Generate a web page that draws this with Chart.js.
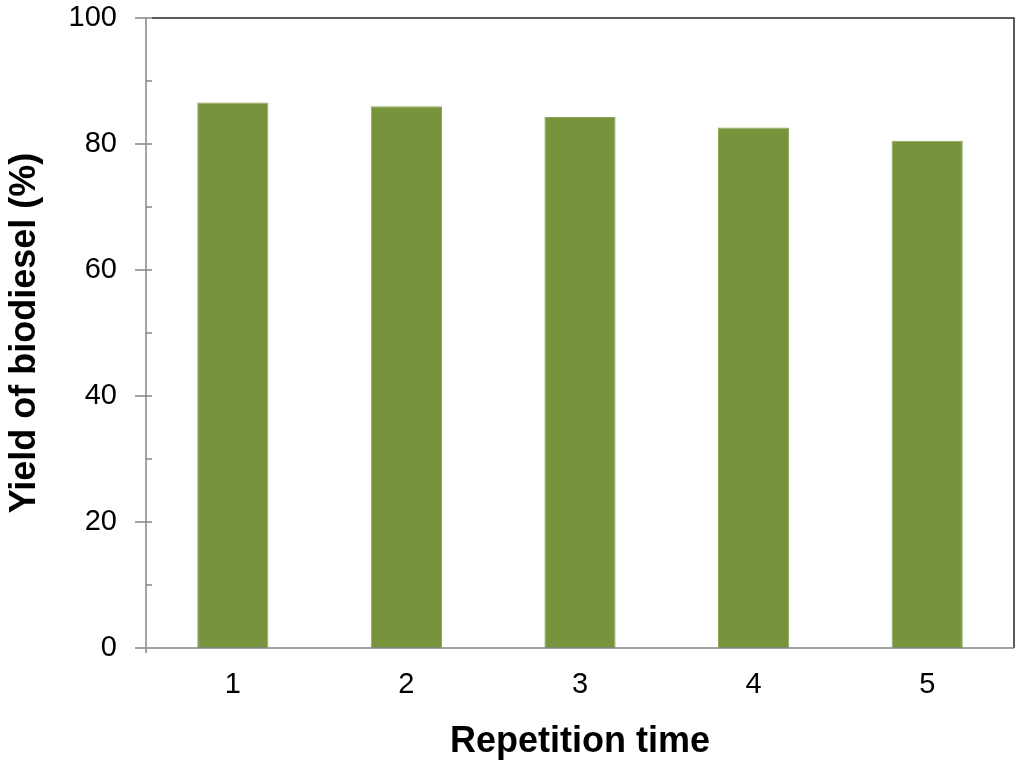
<!DOCTYPE html>
<html>
<head>
<meta charset="utf-8">
<script src="https://cdn.jsdelivr.net/npm/chart.js@4"></script>
<style>
  html, body { margin: 0; padding: 0; background: #fff; }
  #wrap { width: 1024px; height: 774px; }
</style>
</head>
<body>
<div id="wrap"><canvas id="yieldChart" width="1024" height="774"></canvas></div>
<script>
// Data
const runs = ['1', '2', '3', '4', '5'];
const yieldPct = [86.6, 86.0, 84.3, 82.6, 80.5];
const yTicks = [0, 20, 40, 60, 80, 100];
const yMinor = [10, 30, 50, 70, 90];

const axisGray = '#868686';
const frameDark = '#262626';

// Excel-style axes: crossing major ticks, inner minor ticks, dark frame top/right
const framePlugin = {
    id: 'frame',
    afterDatasetsDraw(chart) {
        const { ctx, chartArea: a } = chart;
        const y = chart.scales.y;
        ctx.save();
        ctx.lineWidth = 1.5;
        ctx.strokeStyle = frameDark;
        ctx.beginPath();
        ctx.moveTo(a.left + 6, a.top);
        ctx.lineTo(a.right, a.top);
        ctx.lineTo(a.right, a.bottom);
        ctx.stroke();

        ctx.strokeStyle = axisGray;
        ctx.beginPath();
        ctx.moveTo(a.left, a.top);
        ctx.lineTo(a.left, a.bottom + 5);
        ctx.moveTo(a.left - 11, a.bottom);
        ctx.lineTo(a.right, a.bottom);
        yTicks.forEach(v => {
            const py = y.getPixelForValue(v);
            ctx.moveTo(a.left - 11, py);
            ctx.lineTo(a.left + 6, py);
        });
        yMinor.forEach(v => {
            const py = y.getPixelForValue(v);
            ctx.moveTo(a.left, py);
            ctx.lineTo(a.left + 6, py);
        });
        ctx.stroke();
        ctx.restore();
    }
};

const ctx = document.getElementById('yieldChart').getContext('2d');
const yieldChart = new Chart(ctx, {
    type: 'bar',
    data: {
        labels: runs,
        datasets: [{
            data: yieldPct,
            backgroundColor: '#77933C',
            borderColor: '#8BA656',
            borderWidth: 1,
            categoryPercentage: 1,
            barPercentage: 0.41
        }]
    },
    options: {
        responsive: false,
        animation: false,
        layout: { padding: { top: 18, right: 10, left: 0, bottom: 0 } },
        plugins: {
            legend: { display: false },
            tooltip: { enabled: false }
        },
        scales: {
            x: {
                grid: { display: false },
                border: { display: false },
                ticks: {
                    color: '#000',
                    padding: 12,
                    font: { family: 'Liberation Sans', size: 29 }
                },
                title: {
                    display: true,
                    text: 'Repetition time',
                    color: '#000',
                    padding: { top: 0, bottom: 10 },
                    font: { family: 'Liberation Sans', size: 36, weight: 'bold' }
                },
                afterFit(scale) {
                    scale.height = 126;
                    scale.paddingLeft = 0;
                    scale.paddingRight = 0;
                }
            },
            y: {
                min: 0,
                max: 100,
                grid: { display: false },
                border: { display: false },
                ticks: {
                    stepSize: 20,
                    color: '#000',
                    padding: 21,
                    font: { family: 'Liberation Sans', size: 29 }
                },
                title: {
                    display: true,
                    text: 'Yield of biodiesel (%)',
                    color: '#000',
                    padding: { top: 3, bottom: 0 },
                    font: { family: 'Liberation Sans', size: 36, weight: 'bold' }
                },
                afterFit(scale) {
                    scale.width = 146;
                    scale.paddingTop = 0;
                    scale.paddingBottom = 0;
                }
            }
        }
    },
    plugins: [framePlugin]
});
</script>
</body>
</html>
